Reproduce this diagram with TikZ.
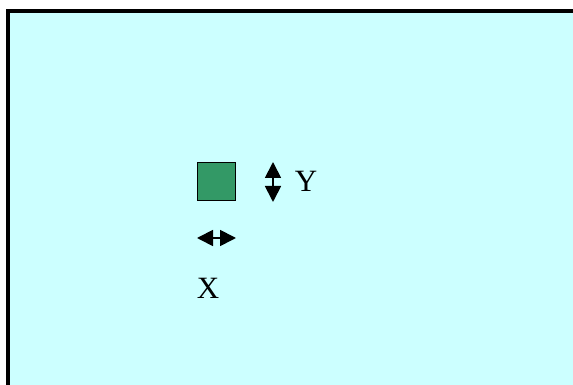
\documentclass[tikz,border=0pt]{standalone}
\usepackage{fontspec}
\setmainfont{Liberation Serif}
\usetikzlibrary{arrows.meta}
\definecolor{slidebg}{RGB}{204,255,255}
\definecolor{boxgreen}{RGB}{51,153,102}
\tikzset{
  dimarrow/.style={line width=1.8pt,{Triangle[length=16pt,width=16pt]}-{Triangle[length=16pt,width=16pt]}},
  axislab/.style={font=\fontsize{31}{36}\selectfont,inner sep=0pt,anchor=base},
  sqbox/.style={draw,fill=boxgreen,line width=1pt,minimum size=38pt,inner sep=0pt},
}

\begin{document}
\begin{tikzpicture}[x=1pt,y=1pt]
  \useasboundingbox (0,0) rectangle (573,385);
  \fill[white] (0,0) rectangle (573,385);
  % slide frame, only top and left edges show
  \begin{scope}
    \clip (0,0) rectangle (573,385);
    \filldraw[fill=slidebg,draw=black,line width=4pt] (8,373.5) rectangle (590,-20);
  \end{scope}
  \node[sqbox] (box) at (216,203.5) {};
  % Y direction
  \coordinate (ytop) at (273,223);
  \coordinate (ybot) at (273,183);
  \draw[dimarrow] (ybot) -- (ytop);
  \node[axislab] (ylab) at (306,193) {Y};
  % X direction
  \coordinate (xleft) at (197,147);
  \coordinate (xright) at (236,147);
  \draw[dimarrow] (xleft) -- (xright);
  \node[axislab] (xlab) at (208,86) {X};
\end{tikzpicture}
\end{document}
